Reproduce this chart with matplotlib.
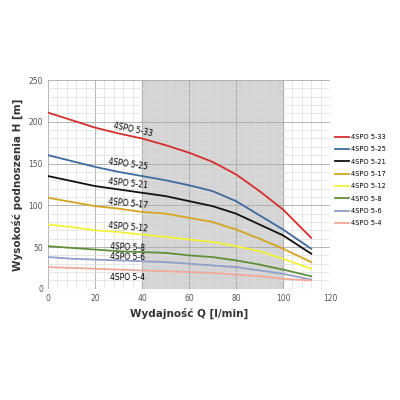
import matplotlib
matplotlib.use("Agg")
import matplotlib.pyplot as plt
from matplotlib.ticker import MultipleLocator

q = [0, 10, 20, 30, 40, 50, 60, 70, 80, 90, 100, 112]
names = ["4SPO 5-33", "4SPO 5-25", "4SPO 5-21", "4SPO 5-17", "4SPO 5-12", "4SPO 5-8", "4SPO 5-6", "4SPO 5-4"]
h_5_33 = [211, 202, 193, 186, 180, 172, 163, 152, 137, 117, 95, 61]
h_5_25 = [160, 153, 146, 140, 135, 130, 124, 117, 105, 88, 71, 48]
h_5_21 = [135, 129, 123, 119, 115, 111, 105, 99, 90, 77, 64, 42]
h_5_17 = [109, 104, 99, 96, 92, 90, 85, 80, 71, 60, 48, 32]
h_5_12 = [77, 74, 70, 68, 65, 62, 59, 56, 51, 45, 36, 24]
h_5_8 = [51, 49, 47, 45, 44, 43, 40, 38, 34, 29, 23, 15]
h_5_6 = [38, 36, 35, 34, 33, 32, 30, 28, 26, 22, 18, 11]
h_5_4 = [26, 25, 24, 23, 22, 21, 20, 19, 17, 15, 12, 10]
series = [h_5_33, h_5_25, h_5_21, h_5_17, h_5_12, h_5_8, h_5_6, h_5_4]
colors = ["#d42e2e", "#3f6a9c", "#111111", "#d4a520", "#f2f23a", "#5f8f3a", "#8f9fc8", "#f0a898"]
label_pos = [(36, 190, -12), (34, 149, -8), (34, 126, -6), (34, 102, -6), (34, 74, -5), (34, 50, -3), (34, 38, -2), (34, 14, 0)]

fig = plt.figure(figsize=(4, 4), dpi=100)
ax = fig.add_axes([0.12, 0.278, 0.705, 0.522])
ax.axvspan(40, 100, color="#d4d4d4", zorder=0)
for s, c, n, (lx, ly, r) in zip(series, colors, names, label_pos):
    ax.plot(q, s, color=c, lw=1.3, label=n, zorder=3)
    ax.text(lx, ly, n, fontsize=5.5, rotation=r, ha="center", va="center", zorder=4)
ax.set_xlim(0, 120)
ax.set_ylim(0, 250)
ax.xaxis.set_major_locator(MultipleLocator(20))
ax.xaxis.set_minor_locator(MultipleLocator(4))
ax.yaxis.set_major_locator(MultipleLocator(50))
ax.yaxis.set_minor_locator(MultipleLocator(10))
ax.grid(which="major", color="#aaaaaa", lw=0.6, zorder=1)
ax.grid(which="minor", color="#dddddd", lw=0.5, zorder=1)
ax.set_axisbelow(True)
for sp in ax.spines.values():
    sp.set_visible(False)
ax.tick_params(which="both", length=0, labelsize=5.5, colors="#555555")
ax.set_xlabel("Wydajność Q [l/min]", fontsize=7.5, fontweight="bold", color="#333333")
ax.set_ylabel("Wysokość podnoszenia H [m]", fontsize=7.5, fontweight="bold", color="#333333")
ax.legend(loc="center left", bbox_to_anchor=(1.0, 0.52), frameon=False, fontsize=4.8,
          handlelength=2.2, handletextpad=0.2, labelspacing=0.95, borderaxespad=0.3)
fig.savefig("out.png", dpi=100, facecolor="white")
